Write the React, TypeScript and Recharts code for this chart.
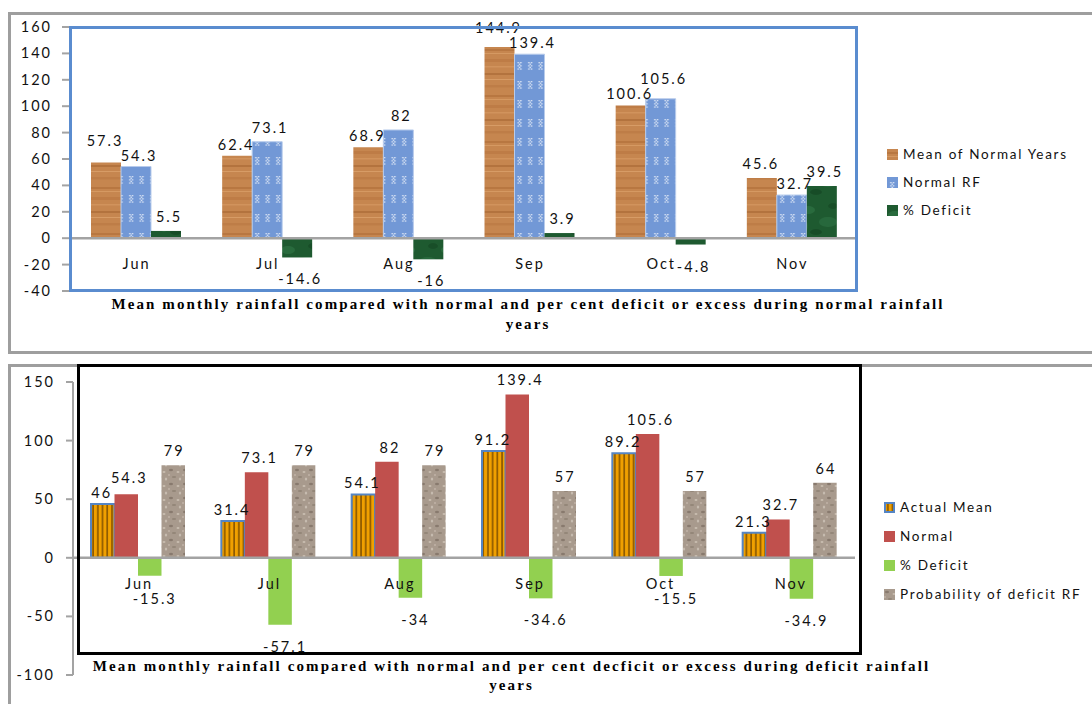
import React from 'react';
import { BarChart, Bar, XAxis, YAxis, ReferenceLine, LabelList } from 'recharts';

const months = ['Jun', 'Jul', 'Aug', 'Sep', 'Oct', 'Nov'];

// normal rainfall years
const meanOfNormalYears = [57.3, 62.4, 68.9, 144.9, 100.6, 45.6];
const normalRF = [54.3, 73.1, 82, 139.4, 105.6, 32.7];
const normalYearsDeficit = [5.5, -14.6, -16, 3.9, -4.8, 39.5];

// deficit rainfall years
const actualMean = [46, 31.4, 54.1, 91.2, 89.2, 21.3];
const normalMean = [54.3, 73.1, 82, 139.4, 105.6, 32.7];
const deficitYearsDeficit = [-15.3, -57.1, -34, -34.6, -15.5, -34.9];
const deficitProbability = [79, 79, 79, 57, 57, 64];

const topTicks = [-40, -20, 0, 20, 40, 60, 80, 100, 120, 140, 160];
const bottomTicks = [-100, -50, 0, 50, 100, 150];

const TOP_TITLE = 'Mean monthly rainfall compared with normal and per cent deficit or excess during normal rainfall';
const BOTTOM_TITLE = 'Mean monthly rainfall compared with normal and per cent decficit or excess during deficit rainfall';

const LABEL_FONT = 'Lato, "Liberation Sans", sans-serif';
const TITLE_FONT = '"Liberation Serif", "Times New Roman", serif';
const AXIS_GREY = '#a3a3a3';

const normalYearsData = months.map((month, i) => ({
  month,
  mean: meanOfNormalYears[i],
  rf: normalRF[i],
  deficit: normalYearsDeficit[i],
}));

const deficitYearsData = months.map((month, i) => ({
  month,
  actual: actualMean[i],
  normal: normalMean[i],
  deficit: deficitYearsDeficit[i],
  prob: deficitProbability[i],
}));

// chart geometry (plot area edges inside each chart box)
const TOP_H = 355;
const TOP_MARGIN = { top: 27, right: 235, bottom: 63, left: 0 };
const BOT_H = 349;
const BOT_MARGIN = { top: 27, right: 237, bottom: 28, left: 0 };

const plotHeight = (h: number, m: { top: number; bottom: number }) => h - m.top - m.bottom - 1;
const zeroOf = (h: number, m: { top: number; bottom: number }, min: number, max: number) =>
  m.top + (max / (max - min)) * plotHeight(h, m);

const TOP_ZERO = zeroOf(TOP_H, TOP_MARGIN, -40, 160);
const BOT_ZERO = zeroOf(BOT_H, BOT_MARGIN, -100, 150);
const TOP_PX = plotHeight(TOP_H, TOP_MARGIN) / 200;
const BOT_PX = plotHeight(BOT_H, BOT_MARGIN) / 250;

const textStyle = { fontFamily: LABEL_FONT, fontSize: 14.5, letterSpacing: 2, fill: '#111' };

// value labels sit above positive bars and below negative ones.
// When a bar shares its group with a neighbour (pair), the taller bar's
// label is lifted so the two labels stack instead of colliding.
// negFloor keeps labels of short negative bars clear of the month names.
const valueLabel = (dx: number, pair?: number[], pxPerUnit = 1, negFloor = 0) => (props: any) => {
  const vb = props.viewBox || {};
  const x = props.x ?? vb.x;
  const y = props.y ?? vb.y;
  const w = props.width ?? vb.width;
  const h = props.height ?? vb.height;
  const v = Number(props.value);
  const top = Math.min(y, y + h);
  const bottom = Math.max(y, y + h);
  let gap = 14;
  if (pair && v >= 0 && props.index != null) {
    const other = pair[props.index];
    const d = Math.abs(other - v) * pxPerUnit;
    gap = other > v ? 11 : Math.max(14, 26 - d);
  }
  const cy = v >= 0 ? top - gap : Math.max(bottom + 22, negFloor);
  return (
    <text x={x + w / 2 + 1 + dx} y={cy + 5} textAnchor="middle" style={textStyle}>
      {props.value}
    </text>
  );
};

const monthTick = (zeroY: number) => (props: any) => (
  <text x={props.x + 1} y={zeroY + 31} textAnchor="middle" style={textStyle}>
    {props.payload.value}
  </text>
);

const valueTick = (props: any) => (
  <text x={props.x} y={props.y + 5} textAnchor="end" style={textStyle}>
    {props.payload.value}
  </text>
);

// white stitch motif on the Normal RF bars
const Stitch = ({ x, y }: { x: number; y: number }) => (
  <g fill="#fff" opacity={0.85}>
    <rect x={x} y={y} width={1.3} height={1.3} />
    <rect x={x + 2.6} y={y} width={1.3} height={1.3} />
    <rect x={x + 1.3} y={y + 1.6} width={1.3} height={1.3} />
    <rect x={x} y={y + 3.2} width={1.3} height={1.3} />
    <rect x={x + 2.6} y={y + 3.2} width={1.3} height={1.3} />
    <rect x={x + 1.3} y={y + 4.8} width={1.3} height={1.3} />
    <rect x={x} y={y + 6.4} width={1.3} height={1.3} />
    <rect x={x + 2.6} y={y + 6.4} width={1.3} height={1.3} />
  </g>
);

// textures used by the bars and legend swatches
const Patterns = () => (
  <svg width={0} height={0} style={{ position: 'absolute' }}>
    <defs>
      <pattern id="wood" patternUnits="userSpaceOnUse" width={30} height={46}>
        <rect width={30} height={46} fill="#c6864f" />
        <rect y={3} width={30} height={2} fill="#a3612d" opacity={0.4} />
        <rect y={7} width={30} height={1} fill="#e4ab76" opacity={0.5} />
        <rect y={13} width={30} height={3} fill="#ad6a35" opacity={0.35} />
        <rect y={20} width={30} height={1.5} fill="#dca06a" opacity={0.5} />
        <rect y={27} width={30} height={2} fill="#975826" opacity={0.4} />
        <rect y={33} width={30} height={1} fill="#e7b17e" opacity={0.5} />
        <rect y={39} width={30} height={2.5} fill="#b1703b" opacity={0.4} />
      </pattern>
      <pattern id="blueRF" patternUnits="userSpaceOnUse" width={10.5} height={19}>
        <rect width={10.5} height={19} fill="#7298d6" />
        <Stitch x={3.2} y={5} />
      </pattern>
      <pattern id="marble" patternUnits="userSpaceOnUse" width={40} height={40}>
        <rect width={40} height={40} fill="#1e5a30" />
        <ellipse cx={8} cy={10} rx={7} ry={4} fill="#3b8a55" opacity={0.35} />
        <ellipse cx={28} cy={22} rx={9} ry={5} fill="#3b8a55" opacity={0.3} />
        <ellipse cx={16} cy={32} rx={6} ry={3} fill="#0f3d1c" opacity={0.45} />
        <ellipse cx={33} cy={6} rx={5} ry={3} fill="#0f3d1c" opacity={0.4} />
        <ellipse cx={4} cy={26} rx={4} ry={6} fill="#2f7544" opacity={0.4} />
      </pattern>
      <pattern id="stripes" patternUnits="userSpaceOnUse" width={4.7} height={10}>
        <rect width={4.7} height={10} fill="#f0a000" />
        <rect x={3} width={1.7} height={10} fill="#8d5a00" />
      </pattern>
      <pattern id="granite" patternUnits="userSpaceOnUse" width={14} height={14}>
        <rect width={14} height={14} fill="#a89a8d" />
        <ellipse cx={3} cy={3} rx={2} ry={1.2} fill="#7b6d61" opacity={0.7} />
        <ellipse cx={10} cy={5} rx={1.5} ry={1} fill="#cfc4b8" opacity={0.8} />
        <ellipse cx={6} cy={10} rx={2.2} ry={1} fill="#847669" opacity={0.6} />
        <ellipse cx={12} cy={12} rx={1.2} ry={1.6} fill="#d3c9be" opacity={0.7} />
        <ellipse cx={1} cy={8} rx={1} ry={1} fill="#c9bdb1" opacity={0.7} />
      </pattern>
    </defs>
  </svg>
);

const box = (style: React.CSSProperties): React.CSSProperties => ({
  position: 'absolute',
  boxSizing: 'border-box',
  pointerEvents: 'none',
  ...style,
});

const legendText: React.CSSProperties = {
  fontFamily: LABEL_FONT,
  fontSize: 13.5,
  letterSpacing: 1.7,
  color: '#111',
  whiteSpace: 'nowrap',
};

const LegendRow = ({ fill, label, top, left, stroke }: any) => (
  <div style={{ position: 'absolute', left, top, display: 'flex', alignItems: 'center', height: 16 }}>
    <svg width={11} height={11} style={{ marginRight: 5 }}>
      <rect x={stroke ? 1 : 0} y={stroke ? 1 : 0} width={stroke ? 9 : 11} height={stroke ? 9 : 11} fill={fill}
        stroke={stroke} strokeWidth={stroke ? 2 : 0} />
    </svg>
    <span style={legendText}>{label}</span>
  </div>
);

const titleStyle: React.CSSProperties = {
  position: 'absolute',
  textAlign: 'center',
  fontFamily: TITLE_FONT,
  fontWeight: 'bold',
  fontSize: 15,
  lineHeight: '17px',
  letterSpacing: 2.1,
  color: '#000',
  whiteSpace: 'nowrap',
};

export default function App() {
  return (
    <div style={{ position: 'absolute', left: 0, top: 0, width: 1092, height: 704, overflow: 'hidden', background: '#fff' }}>
      <Patterns />

      {/* frames */}
      <div style={box({ left: 8, top: 12, width: 1100, height: 342, border: '3px solid #9e9e9e' })} />
      <div style={box({ left: 8, top: 364, width: 1100, height: 400, border: '3px solid #9e9e9e' })} />

      {/* normal rainfall years */}
      <div style={{ position: 'absolute', left: 0, top: 0 }}>
        <BarChart width={1092} height={TOP_H} data={normalYearsData} margin={TOP_MARGIN} barSize={30} barGap={0}>
          <XAxis dataKey="month" axisLine={false} tickLine={false} height={1} interval={0} tick={monthTick(TOP_ZERO)} />
          <YAxis domain={[-40, 160]} ticks={topTicks} width={70} tickSize={8} tickMargin={10}
            stroke={AXIS_GREY} strokeWidth={2} tick={valueTick} interval={0} />
          <Bar dataKey="mean" fill="url(#wood)" isAnimationActive={false}>
            <LabelList dataKey="mean" content={valueLabel(-2, normalRF, TOP_PX)} />
          </Bar>
          <Bar dataKey="rf" fill="url(#blueRF)" stroke="#b7cbeb" strokeWidth={1} isAnimationActive={false}>
            <LabelList dataKey="rf" content={valueLabel(2, meanOfNormalYears, TOP_PX)} />
          </Bar>
          <Bar dataKey="deficit" fill="url(#marble)" isAnimationActive={false}>
            <LabelList dataKey="deficit" content={valueLabel(2)} />
          </Bar>
          <ReferenceLine y={0} stroke={AXIS_GREY} strokeWidth={2.5} />
        </BarChart>
      </div>
      <div style={box({ left: 69, top: 26, width: 789, height: 266, border: '3px solid #5a8ccf' })} />

      <LegendRow left={887} top={146} fill="url(#wood)" label="Mean of Normal Years" />
      <LegendRow left={887} top={174} fill="url(#blueRF)" label="Normal RF" />
      <LegendRow left={887} top={202} fill="url(#marble)" label="% Deficit" />

      <div style={{ ...titleStyle, left: 0, width: 1056, top: 296 }}>{TOP_TITLE}</div>
      <div style={{ ...titleStyle, left: 0, width: 1056, top: 316 }}>years</div>

      {/* deficit rainfall years */}
      <div style={{ position: 'absolute', left: 0, top: 355 }}>
        <BarChart width={1092} height={BOT_H} data={deficitYearsData} margin={BOT_MARGIN} barSize={23.5} barGap={0}>
          <XAxis dataKey="month" axisLine={false} tickLine={false} height={1} interval={0} tick={monthTick(BOT_ZERO)} />
          <YAxis domain={[-100, 150]} ticks={bottomTicks} width={73} tickSize={7} tickMargin={11}
            stroke={AXIS_GREY} strokeWidth={2} tick={valueTick} interval={0} />
          <Bar dataKey="actual" fill="url(#stripes)" stroke="#5585c4" strokeWidth={2} isAnimationActive={false}>
            <LabelList dataKey="actual" content={valueLabel(-2, normalMean, BOT_PX)} />
          </Bar>
          <Bar dataKey="normal" fill="#c0504d" isAnimationActive={false}>
            <LabelList dataKey="normal" content={valueLabel(2, actualMean, BOT_PX)} />
          </Bar>
          <Bar dataKey="deficit" fill="#92d050" isAnimationActive={false}>
            <LabelList dataKey="deficit" content={valueLabel(4, undefined, 1, BOT_ZERO + 41)} />
          </Bar>
          <Bar dataKey="prob" fill="url(#granite)" isAnimationActive={false}>
            <LabelList dataKey="prob" content={valueLabel(0)} />
          </Bar>
          <ReferenceLine y={0} stroke={AXIS_GREY} strokeWidth={2.5} />
        </BarChart>
      </div>
      <div style={box({ left: 77, top: 364, width: 785, height: 291, border: '3px solid #000' })} />

      <LegendRow left={884} top={499} fill="url(#stripes)" stroke="#5585c4" label="Actual Mean" />
      <LegendRow left={884} top={528} fill="#c0504d" label="Normal" />
      <LegendRow left={884} top={557} fill="#92d050" label="% Deficit" />
      <LegendRow left={884} top={586} fill="url(#granite)" label="Probability of deficit RF" />

      <div style={{ ...titleStyle, left: 0, width: 1023, top: 658 }}>{BOTTOM_TITLE}</div>
      <div style={{ ...titleStyle, left: 0, width: 1023, top: 677 }}>years</div>
    </div>
  );
}
